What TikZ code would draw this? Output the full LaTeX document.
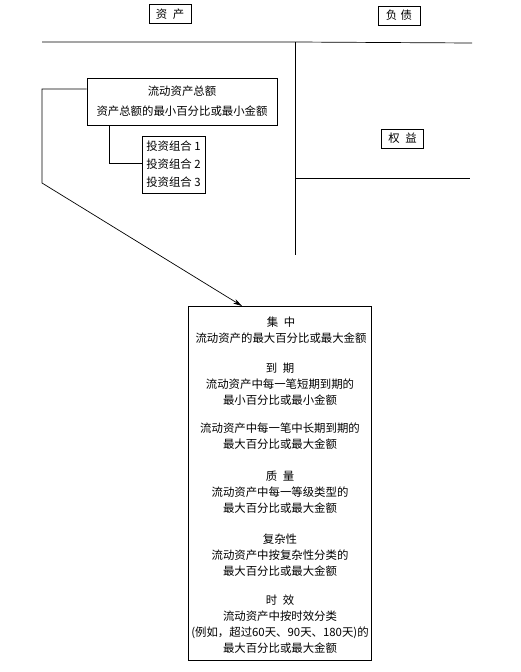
\documentclass[tikz,border=0pt]{standalone}
\usepackage{fontspec}
\newfontfamily\cjk{Noto Sans CJK SC}
\usetikzlibrary{arrows.meta}
\begin{document}
\begin{tikzpicture}[x=1pt,y=-1pt,
  line width=0.7pt,
  every node/.style={font=\cjk\fontsize{11.4}{16}\selectfont},
  hdr/.style={draw,minimum width=42pt,minimum height=19pt,inner sep=1pt},
  grp/.style={align=center,inner sep=0pt},
  arr/.style={-{Stealth[length=9pt,width=5pt]}}]
\useasboundingbox (0,0) rectangle (520,672);
% header boxes
\node[hdr] (zc) at (170,14) {资\hspace{0.5em}产};
\node[hdr] (fz) at (399,15.5) {负\hspace{0.3em}债};
\node[hdr] (qy) at (402.5,138.5) {权\hspace{0.5em}益};
% dividing lines
\coordinate (hl) at (42,42);
\coordinate (hm) at (295,42);
\coordinate (hr) at (472,43);
\coordinate (vb) at (295,255);
\coordinate (ml) at (295,178);
\coordinate (mr) at (470,178);
\draw (hl) -- (hm) -- (hr);
\draw (hm) -- (vb);
\draw (ml) -- (mr);
% current assets box
\node[draw,minimum width=190pt,minimum height=47pt,align=center,inner sep=0pt,font=\cjk\fontsize{11.4}{20}\selectfont] (ld) at (182,101.5)
  {流动资产总额\\资产总额的最小百分比或最小金额};
% portfolios box
\node[draw,minimum width=63pt,minimum height=57pt,align=left,inner sep=2pt,font=\cjk\fontsize{11.4}{18}\selectfont] (tz) at (173.5,164.5)
  {投资组合 1\\投资组合 2\\投资组合 3};
% big box
\node[draw,minimum width=183pt,minimum height=354pt,inner sep=0pt] (big) at (279.5,483) {};
% connectors
\coordinate (c1) at (42,89);
\coordinate (c2) at (42,183);
\coordinate (tip) at (242,306);
\draw[arr] (ld.west |- c1) -- (c1) -- (c2) -- (tip);
\coordinate (s1) at (109,163);
\draw (ld.south -| s1) -- (s1) -- (tz.west |- s1);
% text groups in big box
\node[grp] (g1) at (281,330) {集\hspace{0.5em}中\\流动资产的最大百分比或最大金额};
\node[grp] (g2) at (280,384) {到\hspace{0.5em}期\\流动资产中每一笔短期到期的\\最小百分比或最小金额};
\node[grp] (g3) at (280,436.5) {流动资产中每一笔中长期到期的\\最大百分比或最大金额};
\node[grp] (g4) at (280,492) {质\hspace{0.5em}量\\流动资产中每一等级类型的\\最大百分比或最大金额};
\node[grp] (g5) at (280,555) {复杂性\\流动资产中按复杂性分类的\\最大百分比或最大金额};
\node[grp] (g6) at (280,624) {时\hspace{0.5em}效\\流动资产中按时效分类\\(例如，超过60天、90天、180天)的\\最大百分比或最大金额};
\end{tikzpicture}
\end{document}
